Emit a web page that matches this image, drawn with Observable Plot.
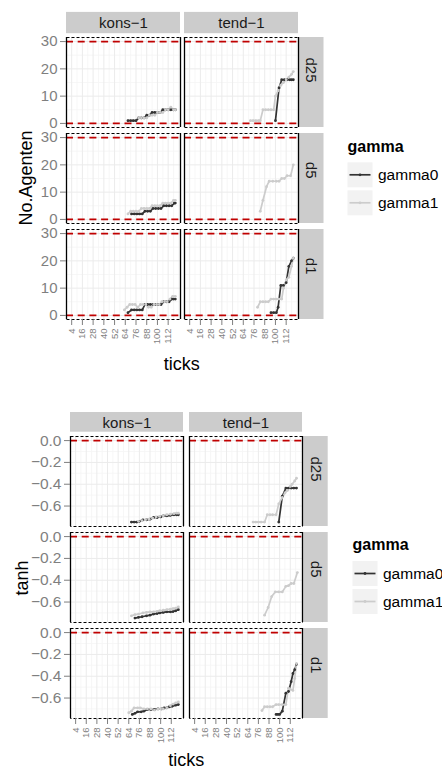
<!DOCTYPE html>
<html>
<head>
<meta charset="utf-8">
<script src="https://cdn.jsdelivr.net/npm/d3@7"></script>
<script src="https://cdn.jsdelivr.net/npm/@observablehq/plot@0.6"></script>
<style>
  body { margin: 0; background: #fff; }
  #fig { position: relative; width: 442px; height: 771px; overflow: hidden; background: #fff;
         font-family: "Liberation Sans", Arial, Helvetica, sans-serif; }
  #fig svg.chart { position: absolute; left: 0; }
  #overlay { position: absolute; left: 0; top: 0; pointer-events: none; }
</style>
</head>
<body>
<div id="fig"></div>
<script>
// Facet levels
const panels = ["kons-1", "tend-1"];
const panelLabels = ["kons−1", "tend−1"];
const dists = ["d25", "d5", "d1"];
const gammas = ["gamma0", "gamma1"];
const gammaColors = ["#333333", "#CCCCCC"];

// x axis (simulation ticks)
const tickBreaks = [4, 16, 28, 40, 52, 64, 76, 88, 100, 112];
const tickMinor = [10, 22, 34, 46, 58, 70, 82, 94, 106, 118, 124];
const tickDomain = [-1.8, 125.8];

// Number of agents: [tick, No.Agenten]
const agKonsD25G0 = [[67,1],[70,1],[73,1],[76,1],[79,2],[82,2],[85,2],[88,3],[91,3],[94,4],[97,4],[100,4],[103,4],[106,5],[109,5],[112,5],[115,5],[118,5],[120,5]];
const agKonsD25G1 = [[79,2],[82,2],[85,2],[88,2],[91,3],[94,3],[97,3],[100,4],[103,4],[106,4],[109,5],[112,5],[115,6],[118,5],[120,5]];
const agTendD25G0 = [[100,1],[104,13],[107,16],[110,16],[113,16],[116,16],[118,16],[120,16]];
const agTendD25G1 = [[72,1],[75,1],[78,1],[81,1],[83,1],[86,5],[89,5],[92,5],[95,5],[98,5],[100,10],[103,12],[106,14],[109,15],[112,16],[115,17],[118,18],[120,19]];
const agKonsD5G0 = [[71,2],[74,2],[77,2],[80,2],[83,2],[86,3],[89,3],[92,3],[95,4],[98,4],[101,4],[104,4],[107,5],[110,5],[113,5],[116,5],[119,6],[120,6]];
const agKonsD5G1 = [[67,2],[70,3],[73,3],[76,3],[79,3],[82,4],[85,4],[88,4],[91,4],[94,5],[97,5],[100,5],[103,5],[106,6],[109,6],[112,6],[115,6],[118,7],[120,7]];
const agTendD5G1 = [[83,3],[86,7],[90,12],[93,14],[97,14],[101,14],[104,14],[107,15],[110,15],[113,16],[117,16],[120,20]];
const agKonsD1G0 = [[67,1],[71,2],[74,2],[77,2],[80,2],[83,2],[86,4],[89,4],[92,4],[95,4],[98,4],[101,4],[104,4],[107,5],[110,5],[113,5],[116,6],[118,6],[120,6]];
const agKonsD1G1 = [[63,2],[66,3],[69,4],[72,4],[75,4],[78,3],[81,4],[84,4],[87,4],[90,3],[93,3],[96,4],[99,4],[102,4],[105,5],[108,5],[111,5],[114,6],[117,7],[120,7]];
const agTendD1G0 = [[95,1],[98,1],[101,1],[103,3],[106,11],[109,11],[112,12],[115,18],[118,20],[120,21]];
const agTendD1G1 = [[80,3],[83,5],[86,5],[89,5],[92,5],[95,6],[98,6],[101,6],[104,6],[107,6],[109,10],[112,13],[115,14],[118,18],[120,21]];

// tanh measure: [tick, tanh]
const thKonsD25G0 = [[67,-0.747],[70,-0.747],[73,-0.747],[76,-0.74],[80,-0.726],[84,-0.726],[88,-0.72],[92,-0.705],[96,-0.705],[100,-0.70],[103,-0.69],[107,-0.69],[111,-0.685],[115,-0.68],[118,-0.68],[120,-0.68]];
const thKonsD25G1 = [[75,-0.74],[79,-0.735],[83,-0.725],[87,-0.72],[91,-0.71],[95,-0.70],[99,-0.695],[103,-0.69],[107,-0.68],[111,-0.675],[115,-0.67],[118,-0.665],[120,-0.665]];
const thTendD25G0 = [[99,-0.747],[103,-0.51],[107,-0.435],[110,-0.435],[113,-0.435],[116,-0.435],[119,-0.435]];
const thTendD25G1 = [[70,-0.747],[73,-0.747],[76,-0.747],[79,-0.747],[83,-0.747],[86,-0.68],[89,-0.68],[92,-0.68],[96,-0.68],[99,-0.58],[103,-0.52],[106,-0.48],[109,-0.456],[112,-0.42],[114,-0.40],[117,-0.37],[119,-0.345]];
const thKonsD5G0 = [[71,-0.747],[75,-0.74],[79,-0.735],[84,-0.726],[88,-0.72],[92,-0.71],[96,-0.705],[99,-0.70],[103,-0.695],[107,-0.69],[111,-0.69],[114,-0.687],[117,-0.68],[120,-0.67]];
const thKonsD5G1 = [[67,-0.726],[71,-0.715],[75,-0.71],[80,-0.70],[84,-0.695],[88,-0.69],[92,-0.69],[96,-0.685],[99,-0.68],[103,-0.675],[107,-0.67],[111,-0.665],[114,-0.66],[117,-0.655],[120,-0.645]];
const thTendD5G1 = [[83,-0.72],[87,-0.65],[91,-0.55],[95,-0.507],[99,-0.507],[103,-0.507],[107,-0.456],[110,-0.45],[113,-0.43],[116,-0.43],[120,-0.33]];
const thKonsD1G0 = [[68,-0.75],[71,-0.74],[74,-0.726],[78,-0.726],[81,-0.72],[85,-0.705],[89,-0.705],[93,-0.705],[97,-0.70],[101,-0.70],[104,-0.69],[107,-0.69],[110,-0.68],[113,-0.675],[117,-0.665],[120,-0.66]];
const thKonsD1G1 = [[64,-0.735],[67,-0.72],[70,-0.69],[74,-0.69],[77,-0.69],[81,-0.70],[85,-0.70],[89,-0.70],[93,-0.71],[97,-0.70],[100,-0.70],[103,-0.70],[107,-0.69],[111,-0.67],[114,-0.655],[117,-0.645],[120,-0.636]];
const thTendD1G0 = [[96,-0.75],[98,-0.75],[100,-0.75],[103,-0.72],[107,-0.555],[110,-0.54],[113,-0.45],[115,-0.375],[117,-0.34],[119,-0.29]];
const thTendD1G1 = [[80,-0.715],[83,-0.68],[86,-0.68],[89,-0.68],[92,-0.68],[96,-0.66],[99,-0.66],[103,-0.66],[107,-0.66],[110,-0.51],[112,-0.52],[115,-0.53],[117,-0.42],[119,-0.285]];

// y axes
const agentenTicks = [0, 10, 20, 30];
const agentenMinor = [5, 15, 25];
const agentenRefs = [0, 30];
const tanhTicks = [0, -0.2, -0.4, -0.6];
const tanhMinor = [-0.1, -0.3, -0.5, -0.7];
const tanhRefs = [0];

// Long-format tables for faceting
function table(groups) {
  return groups.flatMap(([panel, dist, gamma, pts]) =>
    pts.map(([tick, value]) => ({panel, dist, gamma, tick, value})));
}
const agentenData = table([
  ["kons-1", "d25", "gamma0", agKonsD25G0], ["kons-1", "d25", "gamma1", agKonsD25G1],
  ["tend-1", "d25", "gamma0", agTendD25G0], ["tend-1", "d25", "gamma1", agTendD25G1],
  ["kons-1", "d5", "gamma0", agKonsD5G0],   ["kons-1", "d5", "gamma1", agKonsD5G1],
  ["tend-1", "d5", "gamma1", agTendD5G1],
  ["kons-1", "d1", "gamma0", agKonsD1G0],   ["kons-1", "d1", "gamma1", agKonsD1G1],
  ["tend-1", "d1", "gamma0", agTendD1G0],   ["tend-1", "d1", "gamma1", agTendD1G1]
]);
const tanhData = table([
  ["kons-1", "d25", "gamma0", thKonsD25G0], ["kons-1", "d25", "gamma1", thKonsD25G1],
  ["tend-1", "d25", "gamma0", thTendD25G0], ["tend-1", "d25", "gamma1", thTendD25G1],
  ["kons-1", "d5", "gamma0", thKonsD5G0],   ["kons-1", "d5", "gamma1", thKonsD5G1],
  ["tend-1", "d5", "gamma1", thTendD5G1],
  ["kons-1", "d1", "gamma0", thKonsD1G0],   ["kons-1", "d1", "gamma1", thKonsD1G1],
  ["tend-1", "d1", "gamma0", thTendD1G0],   ["tend-1", "d1", "gamma1", thTendD1G1]
]);

const FONT = '"Liberation Sans", Arial, Helvetica, sans-serif';

// One faceted grid: columns = panels, rows = dists, with grey strips
function facetGrid(o) {
  const W = 442;
  const rangeX = W - o.left - o.right;
  const stepX = (rangeX + o.colGap) / panels.length;
  const bandW = stepX - o.colGap;
  const rangeY = o.height - o.top - o.bottom;
  const stepY = (rangeY + o.rowGap) / dists.length;
  const bandH = stepY - o.rowGap;
  const lastPanel = panels[panels.length - 1];

  const svg = Plot.plot({
    width: W,
    height: o.height,
    marginLeft: o.left, marginRight: o.right, marginTop: o.top, marginBottom: o.bottom,
    style: {fontFamily: FONT, background: "transparent", overflow: "visible"},
    fx: {domain: panels, paddingInner: o.colGap / stepX, paddingOuter: 0, axis: null},
    fy: {domain: dists, paddingInner: o.rowGap / stepY, paddingOuter: 0, axis: null},
    x: {domain: tickDomain, axis: null},
    y: {domain: o.yDomain, axis: null},
    color: {domain: gammas, range: gammaColors},
    marks: [
      // panel background + grid
      Plot.frame({fill: "white"}),
      Plot.gridX({ticks: tickMinor, stroke: "#F5F5F5", strokeOpacity: 1, strokeWidth: 0.8}),
      Plot.gridY({ticks: o.yMinor, stroke: "#F5F5F5", strokeOpacity: 1, strokeWidth: 0.8}),
      Plot.gridX({ticks: tickBreaks, stroke: "#EBEBEB", strokeOpacity: 1, strokeWidth: 1}),
      Plot.gridY({ticks: o.yTicks, stroke: "#EBEBEB", strokeOpacity: 1, strokeWidth: 1}),
      // strips: column labels on top row, row labels on the right column
      Plot.rect(panels, {fx: d => d, fy: () => dists[0], fill: "#CCCCCC",
        insetTop: -(o.stripGap + o.stripH), insetBottom: bandH + o.stripGap}),
      Plot.text(panels, {fx: d => d, fy: () => dists[0], text: (d, i) => panelLabels[i],
        frameAnchor: "top", dy: -(o.stripGap + o.stripH / 2), lineAnchor: "middle",
        fontSize: 15, fill: "#1A1A1A"}),
      Plot.rect(dists, {fy: d => d, fx: () => lastPanel, fill: "#CCCCCC",
        insetLeft: bandW, insetRight: -o.stripW}),
      Plot.text(dists, {fy: d => d, fx: () => lastPanel, text: d => d,
        frameAnchor: "right", dx: o.stripW / 2, rotate: 90, lineAnchor: "middle",
        fontSize: 15, fill: "#1A1A1A"}),
      // reference levels
      Plot.ruleY(o.refs, {stroke: "#C00000", strokeWidth: 1.8, strokeDasharray: "7,4.7"}),
      // series
      Plot.line(o.data, {x: "tick", y: "value", fx: "panel", fy: "dist", z: "gamma",
        stroke: "gamma", strokeWidth: 1.7, curve: "linear"}),
      Plot.dot(o.data, {x: "tick", y: "value", fx: "panel", fy: "dist",
        fill: "gamma", r: 1.4, stroke: "none"}),
      // panel border
      Plot.frame({stroke: "#000", strokeWidth: 1, strokeDasharray: "3,2"}),
      Plot.ruleX(tickDomain, {stroke: "#000", strokeWidth: 1.3}),
      // axes
      Plot.axisY({ticks: o.yTicks, tickFormat: o.yFormat, tickSize: 6, tickPadding: 3,
        fontSize: o.yFont, color: "#7F7F7F", label: null}),
      Plot.axisX({ticks: tickBreaks, tickRotate: -90, tickSize: 6, tickPadding: 3,
        fontSize: 9.5, color: "#7F7F7F", label: null})
    ]
  });
  svg.classList.add("chart");
  svg.style.top = o.offset + "px";
  return svg;
}

const fig = document.getElementById("fig");

fig.appendChild(facetGrid({
  data: agentenData, yDomain: [-1.5, 31.5], yTicks: agentenTicks, yMinor: agentenMinor,
  yFormat: d => String(d), refs: agentenRefs, yFont: 15,
  offset: 0, height: 390, top: 36, bottom: 69, left: 65, right: 143.5,
  colGap: 4, rowGap: 6, stripH: 22.3, stripGap: 2.8, stripW: 25.5
}));

fig.appendChild(facetGrid({
  data: tanhData, yDomain: [-0.7875, 0.0375], yTicks: tanhTicks, yMinor: tanhMinor,
  yFormat: d => d3.format(".1f")(d), refs: tanhRefs, yFont: 15.5,
  offset: 385, height: 386, top: 50, bottom: 51, left: 69.3, right: 138.7,
  colGap: 5.6, rowGap: 6, stripH: 20.7, stripGap: 3.3, stripW: 25.7
}));

// Axis titles and legends
const overlay = d3.select(fig).append("svg")
  .attr("id", "overlay").attr("width", 442).attr("height", 771)
  .style("font-family", FONT);

function axisTitles(xTitle, xCenter, xBaseline, yTitle, yBaseline, yCenter) {
  overlay.append("text").attr("x", xCenter).attr("y", xBaseline)
    .attr("text-anchor", "middle").attr("font-size", 18).attr("fill", "#000").text(xTitle);
  overlay.append("text")
    .attr("transform", `translate(${yBaseline},${yCenter}) rotate(-90)`)
    .attr("text-anchor", "middle").attr("font-size", 18).attr("fill", "#000").text(yTitle);
}
axisTitles("ticks", 181.8, 370, "No.Agenten", 32, 178);
axisTitles("ticks", 186.3, 766, "tanh", 28, 578);

function legend(x, titleBaseline, keyTop) {
  const g = overlay.append("g");
  g.append("text").attr("x", x).attr("y", titleBaseline)
    .attr("font-size", 16).attr("font-weight", "bold").attr("fill", "#000").text("gamma");
  gammas.forEach((name, i) => {
    const y0 = keyTop + i * 28;
    g.append("rect").attr("x", x).attr("y", y0).attr("width", 25).attr("height", 25).attr("fill", "#F2F2F2");
    g.append("line").attr("x1", x + 2).attr("x2", x + 23).attr("y1", y0 + 12.5).attr("y2", y0 + 12.5)
      .attr("stroke", gammaColors[i]).attr("stroke-width", 1.7);
    g.append("circle").attr("cx", x + 12.5).attr("cy", y0 + 12.5).attr("r", 1.4).attr("fill", gammaColors[i]);
    g.append("text").attr("x", x + 30.5).attr("y", y0 + 18)
      .attr("font-size", 15.5).attr("fill", "#000").text(name);
  });
}
legend(347.5, 151.5, 162.3);
legend(352.5, 550, 561);
</script>
</body>
</html>
